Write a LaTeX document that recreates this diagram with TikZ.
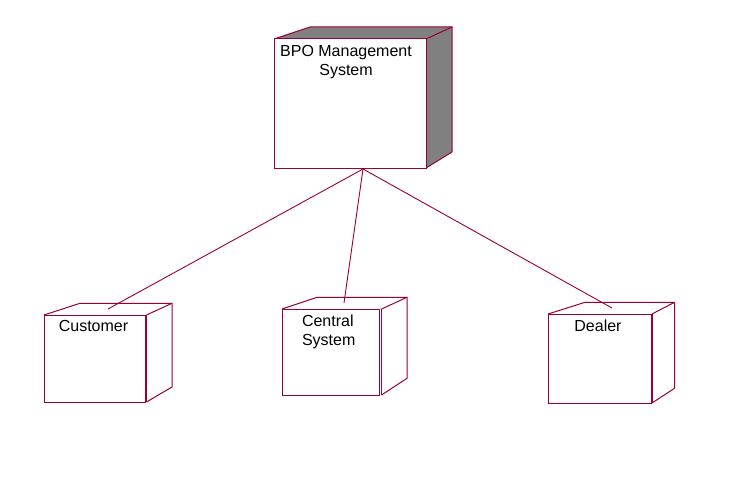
\documentclass[tikz,border=0pt]{standalone}
\usepackage{fontspec}
\setmainfont{Liberation Sans}
\definecolor{edge}{RGB}{153,0,51}
\definecolor{shade}{RGB}{128,128,128}
\tikzset{
  face/.style={draw=edge, line width=1pt, fill=white, rectangle, inner sep=0pt, outer sep=0pt},
  side/.style={draw=edge, line width=1pt, line join=miter},
  lbl/.style={inner sep=0pt, outer sep=0pt, text=black, font=\fontsize{16}{19.5}\selectfont},
  link/.style={draw=edge, line width=0.9pt}
}
\begin{document}
\begin{tikzpicture}[x=1pt,y=-1pt]
\useasboundingbox (0,0) rectangle (738,492);

% --- BPO Management System ---
\path[fill=shade] (274,39) -- (310,27) -- (452,27) -- (452,152) -- (426,168) -- (426,39) -- cycle;
\draw[side] (274,39) -- (310,27) -- (452,27) -- (452,152) -- (426,168);
\draw[side] (426,39) -- (452,27);
\node[face, minimum width=152pt, minimum height=129pt] (top) at (350,103.5) {};
\node[lbl, align=center, anchor=north] (toplbl) at (346,45) {BPO Management\\System};

% --- Customer ---
\draw[side] (44,315) -- (80,303.3) -- (172,303.3) -- (172,387) -- (146.5,402);
\draw[side] (146.5,315) -- (172,303.3);
\draw[side] (146.5,315) -- (146.5,402);
\node[face, minimum width=101pt, minimum height=87pt] (cust) at (94.5,358.5) {};
\node[lbl, anchor=north] (custlbl) at (93.5,320.5) {Customer};

% --- Central System ---
\draw[side] (282,309) -- (317,297.3) -- (407,297.3) -- (407,378.3) -- (381.5,395);
\draw[side] (381.5,309) -- (407,297.3);
\draw[side] (381.5,309) -- (381.5,395);
\node[face, minimum width=97pt, minimum height=86pt] (cent) at (330.5,352) {};
\node[lbl, align=left, anchor=north west] (centlbl) at (302,314.5) {Central\\System};

% --- Dealer ---
\draw[side] (548,314) -- (585,302.3) -- (674.5,302.3) -- (674.5,388.3) -- (652,403);
\draw[side] (652,314) -- (674.5,302.3);
\draw[side] (652,314) -- (652,403);
\node[face, minimum width=103pt, minimum height=89pt] (deal) at (599.5,358.5) {};
\node[lbl, anchor=north] (deallbl) at (598,319.5) {Dealer};

% --- connectors ---
\coordinate (hub) at (363,169);
\coordinate (custend) at (108,309);
\coordinate (centend) at (344,303);
\coordinate (dealend) at (612,308);
\draw[link] (hub) -- (custend);
\draw[link] (hub) -- (centend);
\draw[link] (hub) -- (dealend);
\end{tikzpicture}
\end{document}
